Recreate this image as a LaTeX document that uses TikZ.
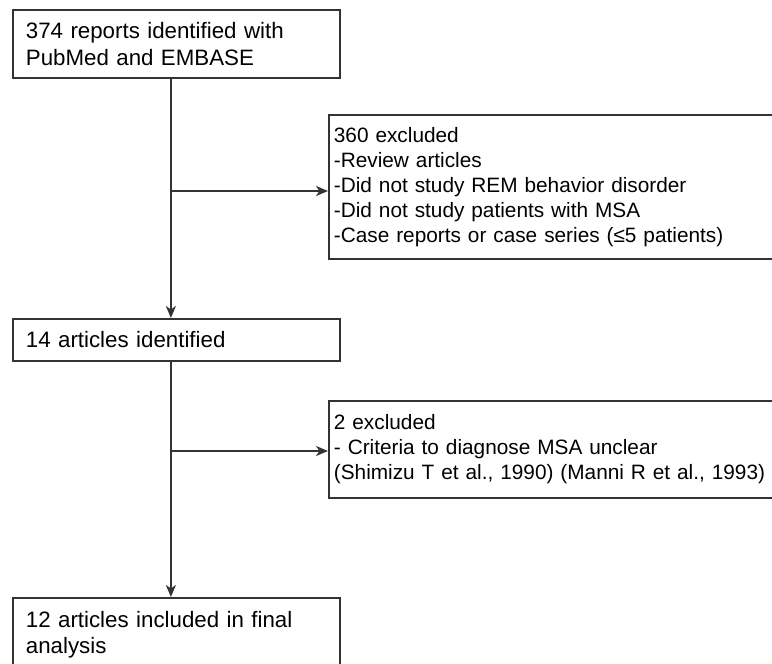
\documentclass[tikz,border=0pt]{standalone}
\usepackage{fontspec}
\setmainfont{Liberation Sans}
\usetikzlibrary{arrows.meta}

\begin{document}
\begin{tikzpicture}[x=1pt,y=-1pt]
\tikzstyle{stagebox}=[rectangle,draw=black!80,line width=1.8pt,anchor=north west,inner xsep=13pt,inner ysep=0pt,text width=301pt,align=left,font=\fontsize{22.3}{26.5}\selectfont]
\tikzstyle{exclbox}=[rectangle,draw=black!80,line width=1.8pt,anchor=north west,inner xsep=5pt,inner ysep=0pt,text width=436pt,align=left,font=\fontsize{20.8}{25}\selectfont]
\tikzstyle{flow}=[draw=black!80,line width=1.8pt,-{Stealth[length=12pt,width=10pt,inset=3.5pt]}]
\useasboundingbox (0,0) rectangle (772,664);
\node [stagebox,minimum height=68pt] (reports) at (12,9) {374 reports identified with PubMed and EMBASE};
\node [exclbox,minimum height=144pt] (excl1) at (328,114) {360 excluded\\-Review articles\\-Did not study REM behavior disorder\\-Did not study patients with MSA\\-Case reports or case series (≤5 patients)};
\node [stagebox,minimum height=42pt] (articles) at (12,318) {14 articles identified};
\node [exclbox,minimum height=97pt] (excl2) at (328,400) {2 excluded\\- Criteria to diagnose MSA unclear\\(Shimizu T et al., 1990) (Manni R et al., 1993)};
\node [stagebox,minimum height=74pt] (included) at (12,597) {12 articles included in final analysis};
\coordinate (j1) at (170,191);
\coordinate (j2) at (170,451);
\draw [flow] ([xshift=-5.5pt]reports.south) -- ([xshift=-5.5pt]articles.north);
\draw [flow] (j1) -- (j1 -| excl1.west);
\draw [flow] ([xshift=-5.5pt]articles.south) -- ([xshift=-5.5pt]included.north);
\draw [flow] (j2) -- (j2 -| excl2.west);
\end{tikzpicture}
\end{document}
